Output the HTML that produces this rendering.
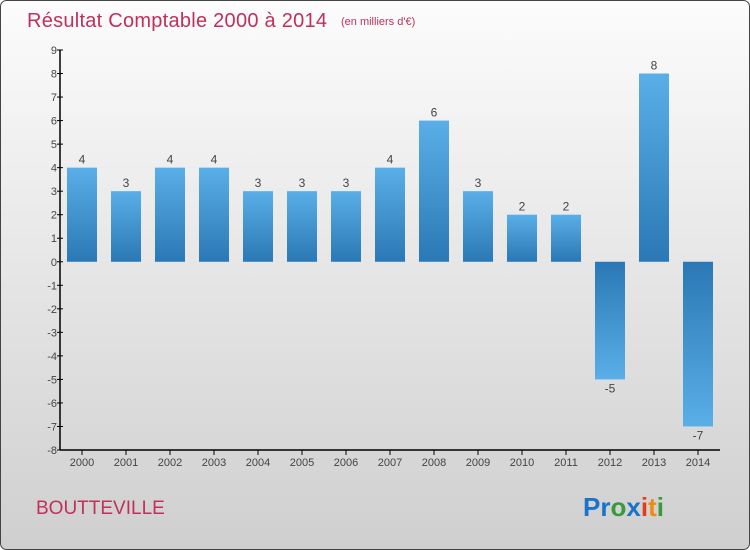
<!DOCTYPE html>
<html><head><meta charset="utf-8"><style>
body{margin:0;}
#c{width:750px;height:550px;position:relative;overflow:hidden;}
svg{display:block;font-family:"Liberation Sans",sans-serif;}
</style></head><body>
<div id="c">
<svg id="s" width="750" height="550" xmlns="http://www.w3.org/2000/svg">
<defs>
<linearGradient id="bg" x1="0" y1="0" x2="0" y2="1"><stop offset="0" stop-color="#fcfcfc"/><stop offset="1" stop-color="#cfcfcf"/></linearGradient>
<linearGradient id="pos" x1="0" y1="0" x2="0" y2="1"><stop offset="0" stop-color="#5aafe8"/><stop offset="1" stop-color="#2a78b5"/></linearGradient>
<linearGradient id="neg" x1="0" y1="0" x2="0" y2="1"><stop offset="0" stop-color="#2a78b5"/><stop offset="1" stop-color="#5aafe8"/></linearGradient>
</defs>
<rect x="0.5" y="0.5" width="749" height="549" rx="6" fill="url(#bg)" stroke="#444"/>
<text x="27" y="27" font-size="20" fill="#c0305a" textLength="300">Résultat Comptable 2000 à 2014</text>
<text x="341" y="25" font-size="11" fill="#c0305a">(en milliers d'€)</text>
<text x="36" y="514" font-size="19" fill="#c0305a">BOUTTEVILLE</text>
<text x="583" y="516" font-size="26" font-weight="bold"><tspan fill="#1a73c8">Pr</tspan><tspan fill="#3a9a3a">o</tspan><tspan fill="#1a73c8">x</tspan><tspan fill="#e83a1a">i</tspan><tspan fill="#f08a10">t</tspan><tspan fill="#3a9a3a">i</tspan></text>
<g id="plot"></g>
</svg></div>
<script>
const categories=["2000","2001","2002","2003","2004","2005","2006","2007","2008","2009","2010","2011","2012","2013","2014"];
const values=[4,3,4,4,3,3,3,4,6,3,2,2,-5,8,-7];
const yTicks=[9,8,7,6,5,4,3,2,1,0,-1,-2,-3,-4,-5,-6,-7,-8];
const X0=60,X1=720,Y0=50,Y1=450,VMAX=9,VMIN=-8;
const band=(X1-X0)/categories.length;
function y(v){return Y0+(VMAX-v)*(Y1-Y0)/(VMAX-VMIN);}
function xc(i){return X0+band*(i+0.5);}
const g=document.getElementById('plot');const NS="http://www.w3.org/2000/svg";
function mk(t,a){const e=document.createElementNS(NS,t);for(const k in a)e.setAttribute(k,a[k]);g.appendChild(e);return e;}
values.forEach((v,i)=>{
 const top=y(Math.max(v,0)),bot=y(Math.min(v,0));
 const r=mk('rect',{x:xc(i)-15,y:top,width:30,height:bot-top,fill:v>=0?'url(#pos)':'url(#neg)'});
 
 
 const t=mk('text',{x:xc(i),y:v>=0?top-4:bot+13,'text-anchor':'middle','font-size':12,fill:'#444'});
 t.textContent=v;
 
 
 const tk=mk('line',{x1:xc(i),x2:xc(i),y1:Y1,y2:Y1+5,stroke:'#000'});
 
 
 const l=mk('text',{x:xc(i),y:Y1+16,'text-anchor':'middle','font-size':11,fill:'#444'});
 l.textContent=categories[i];
 
 
});
yTicks.forEach(v=>{
 const tk=mk('line',{x1:X0-3,x2:X0+3,y1:y(v),y2:y(v),stroke:'#000'});
 
 
 const l=mk('text',{x:X0-3,y:y(v)+4,'text-anchor':'end','font-size':11,fill:'#444'});
 l.textContent=v;
 
 
});
const ya=mk('line',{x1:X0,x2:X0,y1:Y0,y2:Y1,stroke:'#000','stroke-width':1.5});


const xa=mk('line',{x1:X0,x2:X1,y1:Y1,y2:Y1,stroke:'#000','stroke-width':1.5});


</script>
</body></html>
